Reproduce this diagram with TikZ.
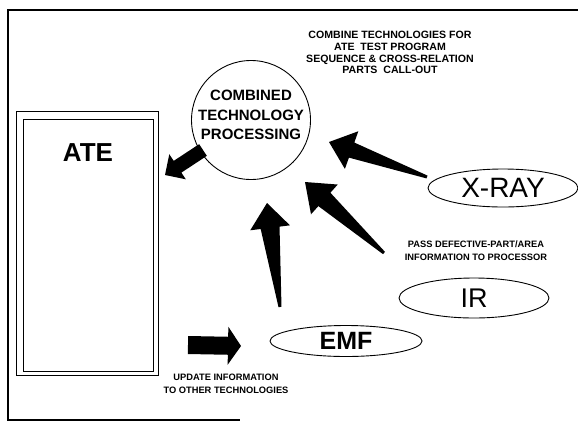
\documentclass[tikz,border=0pt]{standalone}
\usepackage{fontspec}
\setmainfont{Liberation Sans}
\usetikzlibrary{calc,shapes.geometric}
\tikzset{
  frameline/.style={line width=1.7pt},
  boxline/.style={draw, line width=1pt, inner sep=0pt},
  techellipse/.style={draw, ellipse, line width=0.9pt, inner sep=0pt},
  arrowfill/.style={fill=black},
  smallnote/.style={font=\bfseries\fontsize{9.3}{12.5}\selectfont, align=center, inner sep=0pt},
  titlenote/.style={font=\bfseries\fontsize{10.6}{11.7}\selectfont, align=center, inner sep=0pt},
}
\newcommand\fatarrow[6]{%
  \fill[arrowfill] let \p1=(#1), \p2=(#2),
    \n1={atan2(\y2-\y1,\x2-\x1)}, \n2={veclen(\x2-\x1,\y2-\y1)-#6} in
    ($(\p1)+(\n1+90:#3pt)$) -- ($(\p1)+(\n1:\n2)+(\n1+90:#4pt)$) --
    ($(\p1)+(\n1:\n2)+(\n1+90:#5pt)$) -- (\p2) --
    ($(\p1)+(\n1:\n2)+(\n1-90:#5pt)$) -- ($(\p1)+(\n1:\n2)+(\n1-90:#4pt)$) --
    ($(\p1)+(\n1-90:#3pt)$) -- cycle;}
\begin{document}
\begin{tikzpicture}[x=1pt,y=-1pt]
\useasboundingbox (0,0) rectangle (578,424);
% outer frame
\coordinate (ftr) at (578,10);
\coordinate (ftl) at (8,10);
\coordinate (fbl) at (8,420);
\coordinate (fbr) at (240,420);
\draw[frameline] (ftr) -- (ftl) -- (fbl) -- (fbr);
% ATE box
\node[boxline, minimum width=142pt, minimum height=264pt, anchor=north west] (ateout) at (16,111) {};
\node[boxline, minimum width=130pt, minimum height=252pt, anchor=north west] (atein) at (23,119) {};
\node[font=\bfseries\fontsize{26}{26}\selectfont, inner sep=0pt] (atelabel) at (88,153) {ATE};
% processing circle
\node[draw, circle, minimum size=119pt, line width=0.9pt, inner sep=0pt] (ctp) at (251,120) {};
\node[font=\bfseries\fontsize{15}{19.5}\selectfont, align=center, inner sep=0pt] (ctptext) at (251,115) {COMBINED\\TECHNOLOGY\\PROCESSING};
% title note
\node[titlenote] (topnote) at (390,52.5) {COMBINE TECHNOLOGIES FOR\\ATE\ \ TEST PROGRAM\\SEQUENCE \& CROSS-RELATION\\PARTS\ \ CALL-OUT};
% technology ellipses
\node[techellipse, minimum width=150pt, minimum height=38pt, font=\fontsize{28}{28}\selectfont] (xray) at (503,188) {X-RAY};
\node[techellipse, minimum width=150pt, minimum height=40pt, font=\fontsize{27}{27}\selectfont] (ir) at (474,298) {IR};
\node[techellipse, minimum width=152pt, minimum height=31pt, font=\bfseries\fontsize{25}{25}\selectfont] (emf) at (346,341) {EMF};
% notes
\node[smallnote] (passnote) at (476,250.5) {PASS DEFECTIVE-PART/AREA\\INFORMATION TO PROCESSOR};
\node[smallnote] (updnote) at (226,384) {UPDATE INFORMATION\\TO OTHER TECHNOLOGIES};
% arrows
\coordinate (a1s) at (203,150); \coordinate (a1e) at (165,175);
\fatarrow{a1s}{a1e}{7}{7}{15}{15}
\coordinate (a2s) at (280,307); \coordinate (a2e) at (267,203);
\fatarrow{a2s}{a2e}{1.5}{9.5}{20}{25}
\coordinate (a3s) at (384,253); \coordinate (a3e) at (305,182);
\fatarrow{a3s}{a3e}{1.5}{9}{20}{26}
\coordinate (a4s) at (427,177); \coordinate (a4e) at (329,142);
\fatarrow{a4s}{a4e}{1.5}{8}{20}{24}
\coordinate (a5s) at (188,345); \coordinate (a5e) at (241,346);
\fatarrow{a5s}{a5e}{9}{9}{19}{13}
\end{tikzpicture}
\end{document}
